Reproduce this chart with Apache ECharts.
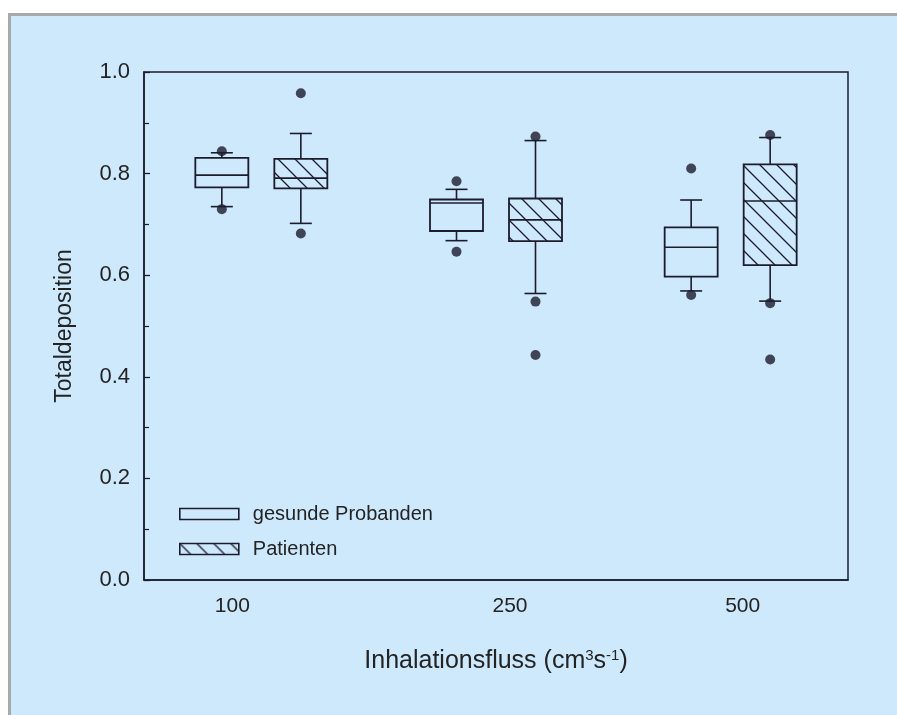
<!DOCTYPE html>
<html>
<head>
<meta charset="utf-8">
<script src="https://cdn.jsdelivr.net/npm/echarts@6/dist/echarts.min.js"></script>
<style>
  html, body { margin: 0; padding: 0; background: #fff; overflow: hidden; }
  #frame { position: absolute; left: 8px; top: 13px; width: 889px; height: 702px;
           border-left: 3px solid #a7a9ab; border-top: 3px solid #a7a9ab; background: #cde9fb; }
  #chart { position: absolute; left: 0; top: 0; width: 897px; height: 715px; }
</style>
</head>
<body>
<div id="frame"></div>
<div id="chart"></div>
<script>
// Inhalationsfluss (cm3/s)
var categories = ['100', '250', '500'];
// [min, Q1, Median, Q3, max]
var healthyBoxes = [
    [0.735, 0.773, 0.797, 0.831, 0.841],
    [0.668, 0.687, 0.742, 0.749, 0.769],
    [0.569, 0.597, 0.655, 0.694, 0.748]
];
var patientBoxes = [
    [0.702, 0.771, 0.791, 0.829, 0.879],
    [0.564, 0.667, 0.709, 0.751, 0.865],
    [0.549, 0.620, 0.746, 0.818, 0.871]
];
// Ausreißer: [Kategorie, Wert]
var healthyOutliers = [[0, 0.844], [0, 0.730], [1, 0.785], [1, 0.646], [2, 0.810], [2, 0.561]];
var patientOutliers = [[0, 0.958], [0, 0.682], [1, 0.873], [1, 0.548], [1, 0.443],
                       [2, 0.876], [2, 0.545], [2, 0.434]];
var seriesNames = ['gesunde Probanden', 'Patienten'];

var lineColor = '#1c1c2e';
var textColor = '#232323';
var font = "'Liberation Sans', Arial, sans-serif";
var boxWidth = 53;
var capWidth = 22;
var groupOffset = 39.5;

// Schraffur für die Patienten-Boxen
function hatchPattern() {
    var s = 17;
    var c = document.createElement('canvas');
    c.width = s; c.height = s;
    var ctx = c.getContext('2d');
    ctx.strokeStyle = lineColor;
    ctx.lineWidth = 1.3;
    ctx.beginPath();
    ctx.moveTo(-1, -1); ctx.lineTo(s + 1, s + 1);
    ctx.moveTo(s - 2, -2); ctx.lineTo(s + 2, 2);
    ctx.moveTo(-2, s - 2); ctx.lineTo(2, s + 2);
    ctx.stroke();
    return { image: c, repeat: 'repeat' };
}
var hatch = hatchPattern();

function boxRenderer(offset, fill) {
    return function (params, api) {
        var cat = api.value(0);
        var x = api.coord([cat, 0])[0] + offset;
        var yMin = api.coord([cat, api.value(1)])[1];
        var yQ1 = api.coord([cat, api.value(2)])[1];
        var yMed = api.coord([cat, api.value(3)])[1];
        var yQ3 = api.coord([cat, api.value(4)])[1];
        var yMax = api.coord([cat, api.value(5)])[1];
        var ls = { stroke: lineColor, lineWidth: 1.6 };
        var hb = boxWidth / 2, hc = capWidth / 2;
        return {
            type: 'group',
            children: [
                { type: 'line', shape: { x1: x, y1: yMax, x2: x, y2: yQ3 }, style: ls },
                { type: 'line', shape: { x1: x, y1: yQ1, x2: x, y2: yMin }, style: ls },
                { type: 'line', shape: { x1: x - hc, y1: yMax, x2: x + hc, y2: yMax }, style: ls },
                { type: 'line', shape: { x1: x - hc, y1: yMin, x2: x + hc, y2: yMin }, style: ls },
                { type: 'rect', shape: { x: x - hb, y: yQ3, width: boxWidth, height: yQ1 - yQ3 },
                  style: { fill: fill, stroke: lineColor, lineWidth: 1.8 } },
                { type: 'line', shape: { x1: x - hb, y1: yMed, x2: x + hb, y2: yMed }, style: ls }
            ]
        };
    };
}

function withIndex(rows) {
    return rows.map(function (r, i) { return [i].concat(r); });
}

var chart = echarts.init(document.getElementById('chart'));
chart.setOption({
    animation: false,
    backgroundColor: 'transparent',
    textStyle: { fontFamily: font, color: textColor },
    grid: {
        left: 144, top: 72, width: 704, height: 508,
        show: true, borderColor: lineColor, borderWidth: 1.5, backgroundColor: 'transparent',
        outerBoundsMode: 'none'
    },
    legend: {
        orient: 'vertical', left: 174, top: 499,
        itemWidth: 59, itemHeight: 11, itemGap: 15,
        icon: 'rect',
        textStyle: { fontSize: 20, color: textColor, fontFamily: font, padding: [0, 0, 0, 9] },
        data: [
            { name: seriesNames[0], itemStyle: { color: 'rgba(0,0,0,0)', borderColor: lineColor, borderWidth: 1.6 } },
            { name: seriesNames[1], itemStyle: { color: hatch, borderColor: lineColor, borderWidth: 1.6 } }
        ]
    },
    xAxis: {
        type: 'category',
        data: categories,
        boundaryGap: true,
        axisLine: { lineStyle: { color: lineColor, width: 1.5 } },
        axisTick: { show: false },
        axisLabel: {
            fontSize: 21, color: textColor, margin: 16,
            formatter: function (v, i) { return '{l' + i + '|' + v + '}'; },
            rich: {
                l0: { fontSize: 21, padding: [0, 58, 0, 0] },
                l1: { fontSize: 21, padding: [0, 0, 0, 28] },
                l2: { fontSize: 21, padding: [0, 0, 0, 24] }
            }
        },
        name: 'Inhalationsfluss (cm{sup|3}s{sup|-1})',
        nameLocation: 'middle',
        nameGap: 68,
        nameTextStyle: {
            fontSize: 25, color: textColor,
            rich: { sup: { fontSize: 15, verticalAlign: 'top', color: textColor, padding: [0, 0, 12, 0] } }
        }
    },
    yAxis: {
        type: 'value',
        min: 0, max: 1, interval: 0.2,
        name: 'Totaldeposition',
        nameLocation: 'middle',
        nameGap: 68,
        nameTextStyle: { fontSize: 23, color: textColor },
        axisLine: { show: true, lineStyle: { color: lineColor, width: 1.5 } },
        axisTick: { show: true, inside: true, length: 6, lineStyle: { color: lineColor, width: 1.3 } },
        minorTick: { show: true, splitNumber: 2, length: 5, lineStyle: { color: lineColor, width: 1.2 } },
        splitLine: { show: false },
        axisLabel: { fontSize: 22, color: textColor, margin: 14,
                     formatter: function (v) { return v.toFixed(1); } }
    },
    series: [
        {
            name: seriesNames[0], type: 'custom',
            renderItem: boxRenderer(-groupOffset, 'rgba(0,0,0,0)'),
            itemStyle: { color: 'rgba(0,0,0,0)', borderColor: lineColor },
            encode: { x: 0, y: [1, 2, 3, 4, 5] },
            data: withIndex(healthyBoxes)
        },
        {
            name: seriesNames[1], type: 'custom',
            renderItem: boxRenderer(groupOffset, hatch),
            itemStyle: { color: hatch, borderColor: lineColor },
            encode: { x: 0, y: [1, 2, 3, 4, 5] },
            data: withIndex(patientBoxes)
        },
        {
            type: 'scatter', data: healthyOutliers, symbolSize: 10,
            symbolOffset: [-groupOffset, 0], itemStyle: { color: lineColor }, z: 5
        },
        {
            type: 'scatter', data: patientOutliers, symbolSize: 10,
            symbolOffset: [groupOffset, 0], itemStyle: { color: lineColor }, z: 5
        }
    ]
});
</script>
</body>
</html>
